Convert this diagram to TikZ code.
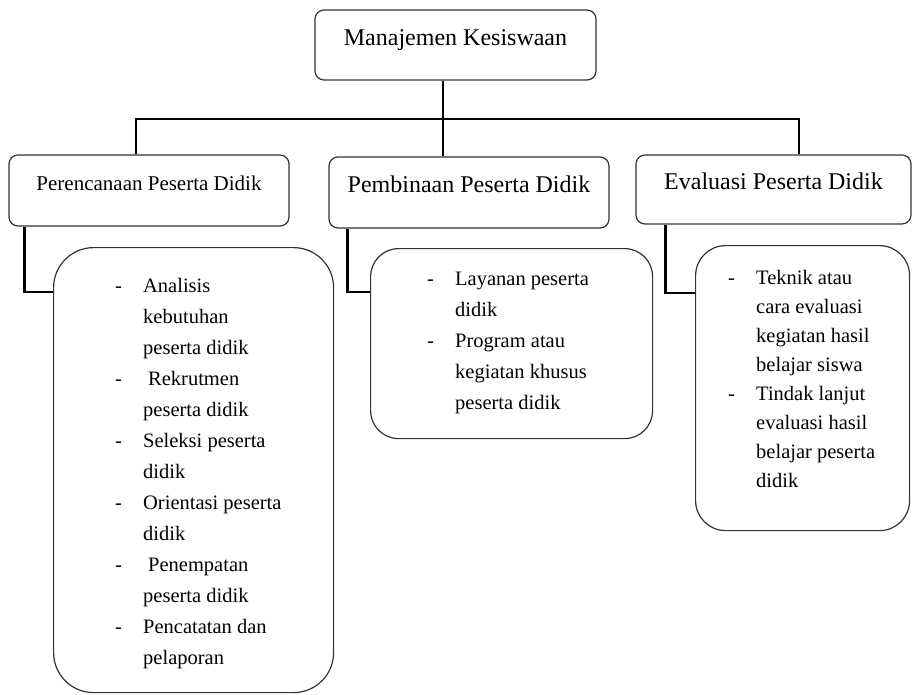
\documentclass[tikz,border=0pt]{standalone}
\usepackage{fontspec}
\setmainfont{Liberation Serif}
\usetikzlibrary{positioning}
\tikzset{
  headbox/.style = {draw=black!80, line width=1.2pt, rounded corners=9pt,
    inner sep=0pt, text centered, font=\fontsize{24}{28}\selectfont,
    text height=9pt, text depth=9pt},
  listbox/.style = {draw=black!80, line width=1.2pt, inner sep=0pt, anchor=north west},
  listtext/.style = {align=left, inner sep=0pt, anchor=north west,
    font=\fontsize{20.5}{31}\selectfont},
  conn/.style = {line width=2.8pt, black}
}
\newcommand{\butir}[1]{\makebox[28pt][l]{-}#1}
\newcommand{\lanjut}[1]{\makebox[28pt]{}#1}

\begin{document}
\begin{tikzpicture}[x=1pt, y=-1pt]
        \useasboundingbox (0,0) rectangle (912,694);
        % kotak utama dan tiga bagian
        \node [headbox, minimum width=281pt, minimum height=70pt] (mk) at (455.5,45) {Manajemen Kesiswaan};
        \node [headbox, minimum width=280pt, minimum height=71pt,
            font=\fontsize{21}{25}\selectfont] (perencanaan) at (149,190.5) {Perencanaan Peserta Didik};
        \node [headbox, minimum width=280pt, minimum height=71pt] (pembinaan) at (469,192.5) {Pembinaan Peserta Didik};
        \node [headbox, minimum width=275pt, minimum height=69pt] (evaluasi) at (773.5,189.5) {Evaluasi Peserta Didik};
        % kotak rincian
        \node [listbox, rounded corners=40pt, minimum width=280pt, minimum height=445pt] (rincianA) at (53,247) {};
        \node [listbox, rounded corners=28pt, minimum width=282pt, minimum height=190pt] (rincianB) at (370,248) {};
        \node [listbox, rounded corners=30pt, minimum width=214pt, minimum height=285pt] (rincianC) at (695,245) {};
        \node [listtext] (isiA) at (115,278) {
            \butir{Analisis}\\
            \lanjut{kebutuhan}\\
            \lanjut{peserta didik}\\
            \butir{\hspace{5pt}Rekrutmen}\\
            \lanjut{peserta didik}\\
            \butir{Seleksi peserta}\\
            \lanjut{didik}\\
            \butir{Orientasi peserta}\\
            \lanjut{didik}\\
            \butir{\hspace{5pt}Penempatan}\\
            \lanjut{peserta didik}\\
            \butir{Pencatatan dan}\\
            \lanjut{pelaporan}};
        \node [listtext] (isiB) at (427,272) {
            \butir{Layanan peserta}\\
            \lanjut{didik}\\
            \butir{Program atau}\\
            \lanjut{kegiatan khusus}\\
            \lanjut{peserta didik}};
        \node [listtext, font=\fontsize{20.5}{29}\selectfont] (isiC) at (728,270) {
            \butir{Teknik atau}\\
            \lanjut{cara evaluasi}\\
            \lanjut{kegiatan hasil}\\
            \lanjut{belajar siswa}\\
            \butir{Tindak lanjut}\\
            \lanjut{evaluasi hasil}\\
            \lanjut{belajar peserta}\\
            \lanjut{didik}};
        % garis penghubung
        \coordinate (cabang) at (443,119);
        \coordinate (kiri) at (136,119);
        \coordinate (kanan) at (799,119);
        \draw [conn] (mk.south -| cabang) -- (pembinaan.north -| cabang);
        \draw [conn] (perencanaan.north -| kiri) |- (kanan) -- (evaluasi.north -| kanan);
        \draw [conn] ([xshift=16pt]perencanaan.south west) |- ([yshift=-45pt]rincianA.north west);
        \draw [conn] ([xshift=19pt]pembinaan.south west) |- ([yshift=-44pt]rincianB.north west);
        \draw [conn] ([xshift=30pt]evaluasi.south west) |- ([yshift=-48pt]rincianC.north west);
\end{tikzpicture}
\end{document}
